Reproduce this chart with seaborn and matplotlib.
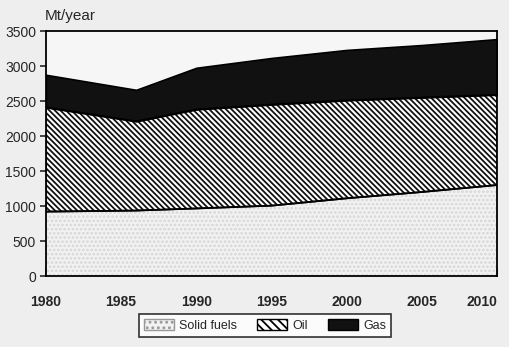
import matplotlib
matplotlib.use("Agg")
import matplotlib.pyplot as plt
import seaborn as sns
import pandas as pd
from matplotlib.patches import Patch
from matplotlib.ticker import MultipleLocator

years = [1980, 1986, 1990, 1995, 2000, 2005, 2010]
solid_fuels = [920, 935, 965, 1005, 1110, 1200, 1300]
oil = [1490, 1275, 1415, 1445, 1400, 1350, 1290]
gas = [465, 450, 595, 665, 720, 750, 795]
series_names = ["Solid fuels", "Oil", "Gas"]
xticks = [1980, 1985, 1990, 1995, 2000, 2005, 2010]
xticklabels = ["1980", "1985", "1990", "1995", "2000", "2005", "2010"]
yticks = [0, 500, 1000, 1500, 2000, 2500, 3000, 3500]

df = pd.DataFrame({"year": years, "Solid fuels": solid_fuels, "Oil": oil, "Gas": gas})

sns.set_theme(style="white")
plt.rcParams['font.family'] = ['Liberation Sans', 'DejaVu Sans']
plt.rcParams['hatch.linewidth'] = 1.3

fig = plt.figure(figsize=(5.1, 3.47), dpi=100, facecolor="#eeeeee")
ax = fig.add_axes([0.090, 0.2046, 0.885, 0.706])
ax.set_facecolor("#f6f6f6")

polys = ax.stackplot(df["year"], df["Solid fuels"], df["Oil"], df["Gas"],
                     colors=["#f2f2f2", "white", "#111111"],
                     edgecolor="black", linewidth=1.2)
polys[0].set_hatch("....")
polys[0].set_edgecolor("#d6d6d6")
polys[1].set_hatch("\\\\\\\\\\\\")
polys[1].set_edgecolor("#111111")
sns.lineplot(x=df["year"], y=df["Solid fuels"], ax=ax, color="black", lw=1.3)
oil_top = df["Solid fuels"] + df["Oil"]
sns.lineplot(x=df["year"], y=oil_top, ax=ax, color="black", lw=1.3)

ax.set_xlim(1980, 2010)
ax.set_ylim(0, 3500)
ax.set_xticks(xticks)
ax.set_xticklabels(xticklabels, fontsize=10, fontweight="bold")
labels = ax.get_xticklabels()
labels[-1].set_horizontalalignment("right")
labels[-1].set_x(2010.4)
ax.set_yticks(yticks)
ax.set_yticklabels([str(v) for v in yticks], fontsize=10)
ax.xaxis.set_minor_locator(MultipleLocator(1))
ax.tick_params(axis="x", which="major", direction="in", length=6, width=1.2, pad=14, bottom=True)
ax.tick_params(axis="x", which="minor", direction="in", length=4, width=1.2, bottom=True)
ax.tick_params(axis="y", direction="out", length=4, width=1.2, left=True, pad=3)
ax.set_xlabel("")
ax.set_ylabel("")
for s in ax.spines.values():
    s.set_color("black")
    s.set_linewidth(1.3)

fig.text(0.088, 0.935, "Mt/year", fontsize=11, ha="left", va="bottom")

handles = [
    Patch(facecolor="#f2f2f2", edgecolor="#999999", hatch="...", label=series_names[0]),
    Patch(facecolor="white", edgecolor="black", hatch="\\\\\\\\", label=series_names[1]),
    Patch(facecolor="#111111", edgecolor="black", label=series_names[2]),
]
leg = fig.legend(handles=handles, loc="center", bbox_to_anchor=(0.52, 0.063), ncol=3,
                 frameon=True, fontsize=9, handlelength=2.4, handleheight=1.0,
                 columnspacing=1.6, handletextpad=0.4, borderpad=0.4, fancybox=False)
leg.get_frame().set_edgecolor("black")
leg.get_frame().set_linewidth(1.2)

fig.savefig("out.png", dpi=100, facecolor=fig.get_facecolor())
